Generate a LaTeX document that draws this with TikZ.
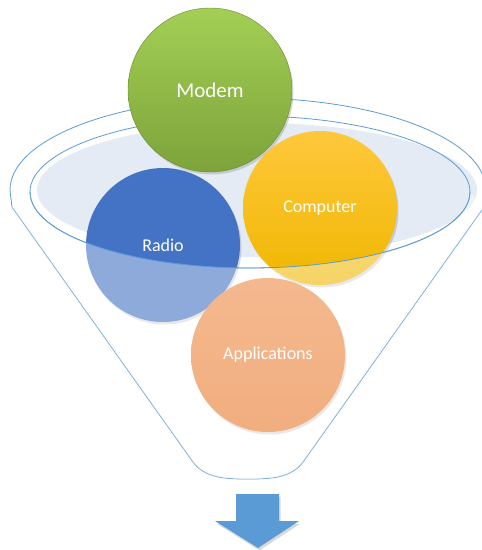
\documentclass[tikz,border=0pt]{standalone}
\usepackage{fontspec}
\setmainfont{Carlito}
\usepackage{tikz}
\usetikzlibrary{shapes.geometric, arrows.meta, positioning, calc, shadows}
\definecolor{FunnelBlue}{HTML}{5B9BD5}
\definecolor{FunnelFill}{HTML}{E4EBF5}
\definecolor{ModemTop}{HTML}{A3CF55}
\definecolor{ModemBottom}{HTML}{7DA33A}
\definecolor{RadioBlue}{HTML}{4472C4}
\definecolor{CompTop}{HTML}{FFC83C}
\definecolor{CompBottom}{HTML}{EFB700}
\definecolor{AppTop}{HTML}{EE8A45}
\definecolor{AppBottom}{HTML}{E9782A}

\begin{document}
\begin{tikzpicture}[
    x=1pt, y=-1pt,
    funnel/.style={draw=FunnelBlue, line width=0.8pt},
    bubble/.style={circle, inner sep=0pt, minimum size=154pt, text=white,
                   font=\fontsize{18}{21}\selectfont,
                   drop shadow={opacity=0.3, shadow xshift=1.5pt, shadow yshift=-2.5pt}},
    veil/.style={fill=white, fill opacity=0.4}
]
    \useasboundingbox (0,0) rectangle (482,550);

    % Funnel body and rim
    \draw[funnel] (12,207) -- (10,190)
        arc[start angle=180, end angle=0, x radius=238pt, y radius=92pt]
        -- (484,207) -- (303,462)
        .. controls (291,478) and (271,479) .. (248,479)
        .. controls (225,479) and (205,478) .. (193,462) -- cycle;
    \fill[FunnelFill] (257,190) ellipse [x radius=220pt, y radius=67pt];
    \draw[funnel] (250,192) ellipse [x radius=220pt, y radius=76pt];

    % Items
    \node[bubble, minimum size=164pt, top color=ModemTop, bottom color=ModemBottom,
          draw=ModemBottom!85!black, font=\fontsize{21}{25}\selectfont]
          (modem) at (210,90) {Modem};
    \node[bubble, fill=RadioBlue] (radio) at (163,245) {Radio};
    \node[bubble, top color=CompTop, bottom color=CompBottom] (computer) at (320,208) {Computer};
    \node[bubble, top color=AppTop, bottom color=AppBottom] (apps) at (268,355) {Applications};

    % Front of the funnel over the items
    \fill[veil] (30,192)
        arc[start angle=180, end angle=360, x radius=220pt, y radius=76pt]
        -- (484,207) -- (303,462)
        .. controls (291,478) and (271,479) .. (248,479)
        .. controls (225,479) and (205,478) .. (193,462) -- (12,207) -- cycle;
    \draw[funnel] (30,192)
        arc[start angle=180, end angle=360, x radius=220pt, y radius=76pt];

    % Output arrow
    \fill[FunnelBlue, drop shadow={opacity=0.3, shadow xshift=1.5pt, shadow yshift=-2.5pt}]
        (236,494) -- (279,494) -- (279,521) -- (299,521) -- (258,548)
        -- (215,521) -- (236,521) -- cycle;
\end{tikzpicture}
\end{document}
